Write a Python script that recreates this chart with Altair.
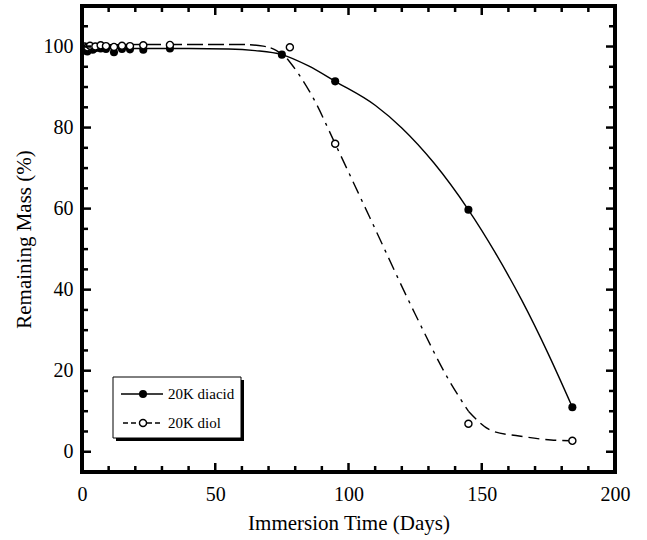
import altair as alt
import pandas as pd

# ---- measured data points ----
diacid_days = [1, 2, 3, 4, 5, 7, 9, 12, 15, 18, 23, 33, 75, 95, 145, 184]
diacid_mass = [99.0, 98.8, 99.5, 99.2, 99.6, 99.5, 99.4, 98.6, 99.4, 99.3, 99.2, 99.5, 98.0, 91.4, 59.7, 11.0]
diol_days = [1, 2, 3, 5, 7, 9, 12, 15, 18, 23, 33, 78, 95, 145, 184]
diol_mass = [100.0, 99.8, 100.2, 100.0, 100.3, 100.1, 99.9, 100.2, 100.1, 100.3, 100.4, 99.8, 76.0, 6.9, 2.7]

# ---- fitted curves ----
diacid_curve_days = [0, 20, 40, 55, 65, 75, 85, 95, 110, 120, 132, 145, 155, 165, 175, 184]
diacid_curve_mass = [99.5, 99.5, 99.5, 99.4, 99.0, 98.0, 95.2, 91.4, 85.5, 79.9, 71.3, 59.7, 49.2, 37.4, 24.1, 11.0]
diol_curve_days = [0, 30, 60, 68, 73, 77, 77, 81, 87, 95, 108, 125, 138, 145, 145, 154, 164, 176, 184]
diol_curve_mass = [100.4, 100.5, 100.5, 100.1, 99.0, 97.0, 97.0, 93.5, 87.0, 76.0, 57.8, 34.0, 17.3, 10.0, 10.0, 5.1, 3.9, 2.9, 2.7]
diol_curve_seg = ["a"] * 6 + ["b"] * 8 + ["c"] * 5

# ---- axis ticks ----
x_major = [0, 50, 100, 150, 200]
x_minor = [10, 20, 30, 40, 60, 70, 80, 90, 110, 120, 130, 140, 160, 170, 180, 190]
y_major = [0, 20, 40, 60, 80, 100]
y_minor = [-5, 5, 10, 15, 25, 30, 35, 45, 50, 55, 65, 70, 75, 85, 90, 95, 105]

legend_labels = ["20K diacid", "20K diol"]

W, H = 533, 466
FONT = "Liberation Serif"

xs = alt.Scale(domain=[0, 200], nice=False, zero=False)
ys = alt.Scale(domain=[-5, 110], nice=False, zero=False)

xaxis = alt.Axis(values=x_major, ticks=False, domain=False, grid=False, labelFont=FONT,
                 labelFontSize=20, labelColor="black", labelPadding=12, labelFlush=False,
                 title="Immersion Time (Days)",
                 titleFont=FONT, titleFontSize=21, titleFontWeight="normal", titleColor="black",
                 titlePadding=8)
yaxis = alt.Axis(values=y_major, ticks=False, domain=False, grid=False, labelFont=FONT,
                 labelFontSize=20, labelColor="black", labelPadding=9, labelFlush=False,
                 title="Remaining Mass (%)",
                 titleFont=FONT, titleFontSize=21, titleFontWeight="normal", titleColor="black",
                 titlePadding=9)

d_pts = pd.DataFrame({"day": diacid_days, "mass": diacid_mass})
o_pts = pd.DataFrame({"day": diol_days, "mass": diol_mass})
d_cur = pd.DataFrame({"day": diacid_curve_days, "mass": diacid_curve_mass})
o_cur = pd.DataFrame({"day": diol_curve_days, "mass": diol_curve_mass, "seg": diol_curve_seg})

curve_d = alt.Chart(d_cur).mark_line(interpolate="monotone", color="black", strokeWidth=1.4).encode(
    x=alt.X("day:Q", scale=xs, axis=xaxis),
    y=alt.Y("mass:Q", scale=ys, axis=yaxis),
)
curve_o = alt.Chart(o_cur).mark_line(interpolate="monotone", color="black", strokeWidth=1.4).encode(
    x=alt.X("day:Q", scale=xs),
    y=alt.Y("mass:Q", scale=ys),
    strokeDash=alt.StrokeDash("seg:N", scale=alt.Scale(domain=["a", "b", "c"],
                              range=[[16, 5], [13, 6, 3, 6], [11, 6]]), legend=None),
)
pts_d = alt.Chart(d_pts).mark_point(shape="circle", filled=True, color="black", size=65, opacity=1).encode(
    x=alt.X("day:Q", scale=xs), y=alt.Y("mass:Q", scale=ys))
pts_o = alt.Chart(o_pts).mark_point(shape="circle", filled=True, fill="white", stroke="black",
                                    strokeWidth=1.4, size=50, opacity=1).encode(
    x=alt.X("day:Q", scale=xs), y=alt.Y("mass:Q", scale=ys))

# inward ticks
def xticks(vals, length):
    df = pd.DataFrame({"v": vals})
    bot = alt.Chart(df).mark_rule(color="black", strokeWidth=2.5).encode(
        x=alt.X("v:Q", scale=xs), y=alt.value(H), y2=alt.value(H - length))
    top = alt.Chart(df).mark_rule(color="black", strokeWidth=2.5).encode(
        x=alt.X("v:Q", scale=xs), y=alt.value(0), y2=alt.value(length))
    return bot + top

def yticks(vals, length):
    df = pd.DataFrame({"v": vals})
    lft = alt.Chart(df).mark_rule(color="black", strokeWidth=2.5).encode(
        y=alt.Y("v:Q", scale=ys), x=alt.value(0), x2=alt.value(length))
    rgt = alt.Chart(df).mark_rule(color="black", strokeWidth=2.5).encode(
        y=alt.Y("v:Q", scale=ys), x=alt.value(W), x2=alt.value(W - length))
    return lft + rgt

ticks = xticks(x_major, 9) + xticks(x_minor, 6) + yticks(y_major, 9) + yticks(y_minor, 6)

leg_df = pd.DataFrame({"label": legend_labels})
one = leg_df.head(1)

frame = alt.Chart(one).mark_rect(fill=None, stroke="black", strokeWidth=4).encode(
    x=alt.value(0), x2=alt.value(W), y=alt.value(0), y2=alt.value(H))

# legend (manual)
LX0, LX1, LY0, LY1 = 31, 159, 371, 432
shadow = alt.Chart(one).mark_rect(color="black").encode(
    x=alt.value(LX0 + 3), x2=alt.value(LX1 + 3), y=alt.value(LY0 + 3), y2=alt.value(LY1 + 3))
box = alt.Chart(one).mark_rect(fill="white", stroke="black", strokeWidth=1).encode(
    x=alt.value(LX0), x2=alt.value(LX1), y=alt.value(LY0), y2=alt.value(LY1))
r1y, r2y = 388, 417
leg_line1 = alt.Chart(one).mark_rule(color="black", strokeWidth=1.4).encode(
    x=alt.value(39), x2=alt.value(81), y=alt.value(r1y))
leg_pt1 = alt.Chart(one).mark_point(shape="circle", filled=True, color="black", size=65, opacity=1).encode(
    x=alt.value(61), y=alt.value(r1y))
leg_line2 = alt.Chart(one).mark_rule(color="black", strokeWidth=1.4, strokeDash=[5, 3]).encode(
    x=alt.value(41), x2=alt.value(81), y=alt.value(r2y))
leg_pt2 = alt.Chart(one).mark_point(shape="circle", filled=True, fill="white", stroke="black",
                                    strokeWidth=1.4, size=50, opacity=1).encode(
    x=alt.value(61), y=alt.value(r2y))
leg_t1 = alt.Chart(one).mark_text(align="left", baseline="middle", font=FONT, fontSize=15,
                                  color="black").encode(
    x=alt.value(86), y=alt.value(r1y), text="label:N")
leg_t2 = alt.Chart(leg_df.tail(1)).mark_text(align="left", baseline="middle", font=FONT, fontSize=15,
                                             color="black").encode(
    x=alt.value(86), y=alt.value(r2y), text="label:N")

chart = alt.layer(
    curve_d, curve_o, pts_d, pts_o, ticks, frame,
    shadow, box, leg_line1, leg_pt1, leg_line2, leg_pt2, leg_t1, leg_t2,
).properties(
    width=W, height=H,
    autosize=alt.AutoSizeParams(type="none"),
    padding={"left": 82, "top": 6, "right": 32, "bottom": 68},
).configure_view(stroke=None).configure(background="white")

chart.save("out.html", embed_options={"renderer": "svg", "actions": False})
